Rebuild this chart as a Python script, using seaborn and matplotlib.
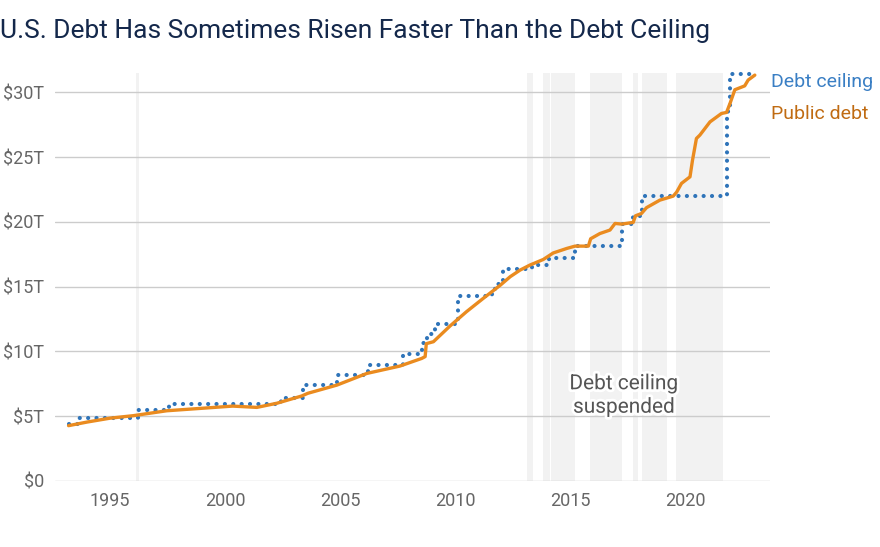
import numpy as np
import pandas as pd
import seaborn as sns
import matplotlib.pyplot as plt
import matplotlib.patheffects as pe

# debt ceiling, trillions (value holds until next change)
ceiling_year = [1993.19, 1993.60, 1996.20, 1997.55, 2002.45, 2003.40, 2004.87,
                2006.20, 2007.75, 2008.58, 2008.78, 2009.13, 2010.00, 2010.13,
                2011.59, 2011.72, 2012.07, 2013.35, 2014.10, 2015.22, 2017.25,
                2017.75, 2018.15, 2021.82, 2021.86, 2021.97, 2023.10]
ceiling_val = [4.37, 4.90, 5.50, 5.95, 6.40, 7.38, 8.18,
               8.97, 9.82, 10.62, 11.32, 12.10, 12.39, 14.29,
               14.69, 15.19, 16.39, 16.70, 17.21, 18.11, 19.81,
               20.46, 21.99, 28.40, 28.88, 31.38, 31.38]

# total public debt, trillions
debt_year = [1993.19, 1994.0, 1995.0, 1996.0, 1997.46, 1998.9, 2000.33, 2001.38,
             2002.25, 2003.33, 2003.6, 2004.86, 2006.16, 2007.6, 2008.55, 2008.7,
             2008.75, 2009.06, 2009.78, 2010.5, 2011.23, 2011.96, 2012.4, 2012.83,
             2013.26, 2013.84, 2014.27, 2014.86, 2015.22, 2015.8, 2015.9, 2016.3,
             2016.74, 2016.96, 2017.25, 2017.75, 2017.85, 2018.11, 2018.33, 2018.91,
             2019.49, 2019.64, 2019.85, 2020.22, 2020.33, 2020.5, 2020.65, 2021.09,
             2021.59, 2021.81, 2021.96, 2022.17, 2022.6, 2022.75, 2023.04]
debt_val = [4.27, 4.55, 4.85, 5.04, 5.42, 5.60, 5.78, 5.68,
            6.00, 6.56, 6.77, 7.40, 8.30, 8.87, 9.46, 9.60,
            10.60, 10.75, 11.96, 13.07, 14.10, 15.10, 15.77, 16.28,
            16.67, 17.10, 17.60, 17.95, 18.13, 18.13, 18.70, 19.10,
            19.37, 19.88, 19.83, 19.96, 20.47, 20.65, 21.10, 21.68,
            21.99, 22.30, 22.97, 23.48, 24.77, 26.44, 26.70, 27.72,
            28.37, 28.45, 29.14, 30.20, 30.50, 30.95, 31.33]

# periods when the ceiling was suspended
suspended = [(1996.13, 1996.25), (2013.12, 2013.38), (2013.84, 2014.13),
             (2014.17, 2015.22), (2015.87, 2017.25), (2017.75, 2017.97),
             (2018.14, 2019.20), (2019.60, 2021.64)]

ceiling = pd.DataFrame({"year": ceiling_year, "value": ceiling_val})
debt = pd.DataFrame({"year": debt_year, "value": debt_val})

sns.set_style("white")
plt.rcParams['font.family'] = ['Roboto', 'DejaVu Sans']

BLUE = "#2f74b9"
ORANGE = "#ea8b1f"
GRAY = "#666666"

fig = plt.figure(figsize=(8.8, 5.47), dpi=100)
ax = fig.add_axes([0.0625, 0.1207, 0.8125, 0.746])

for a, b in suspended:
    ax.axvspan(a, b, color="#f2f2f2", lw=0, zorder=0)

sns.lineplot(data=ceiling, x="year", y="value", ax=ax, color=BLUE,
             drawstyle="steps-post", lw=3.0, zorder=3)
ax.lines[-1].set_linestyle((0, (0.01, 2.0)))
ax.lines[-1].set_dash_capstyle("round")
ax.lines[-1].set_clip_on(False)

sns.lineplot(data=debt, x="year", y="value", ax=ax, color=ORANGE,
             lw=2.4, zorder=4)
ax.lines[-1].set_clip_on(False)

ax.set_xlim(1992.6, 2023.7)
ax.set_ylim(0, 31.5)
ax.set_yticks([0, 5, 10, 15, 20, 25, 30])
ax.set_yticklabels(["$0", "$5T", "$10T", "$15T", "$20T", "$25T", "$30T"])
ax.set_xticks([1995, 2000, 2005, 2010, 2015, 2020])
ax.set_xticklabels(["1995", "2000", "2005", "2010", "2015", "2020"])
ax.tick_params(axis="both", length=0, labelsize=13, colors=GRAY)
ax.tick_params(axis="y", pad=8)
ax.tick_params(axis="x", pad=8)
ax.set_xlabel("")
ax.set_ylabel("")
ax.yaxis.grid(True, color="#cccccc", lw=1)
ax.set_axisbelow(True)
sns.despine(ax=ax, left=True, bottom=True)

ax.text(2023.75, 30.8, "Debt ceiling", color="#3a7fc4", fontsize=14,
        ha="left", va="center", clip_on=False)
ax.text(2023.75, 28.3, "Public debt", color="#c06b12", fontsize=14,
        ha="left", va="center", clip_on=False)

ax.text(2017.35, 6.6, "Debt ceiling\nsuspended", color="#555555", fontsize=15,
        ha="center", va="center", linespacing=1.3, zorder=5,
        path_effects=[pe.withStroke(linewidth=4, foreground="white")])

fig.text(0.0, 0.943, "U.S. Debt Has Sometimes Risen Faster Than the Debt Ceiling",
         color="#14284b", fontsize=19, ha="left", va="center")

fig.savefig("out.png", dpi=100)
